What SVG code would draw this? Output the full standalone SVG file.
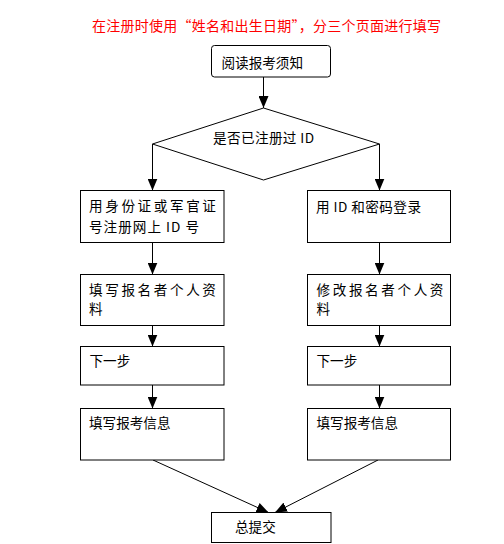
<svg xmlns="http://www.w3.org/2000/svg" width="504" height="544" viewBox="0 0 504 544">
<style>
text{font-family:"Noto Sans CJK SC","Liberation Sans",sans-serif;font-size:13.6px;fill:#000}
.title{fill:#ff0000;font-size:14px}
.box{fill:#fff;stroke:#000;stroke-width:1}
.ln{fill:none;stroke:#000;stroke-width:1}
.sp{letter-spacing:2.6px}
</style>
<defs>
<marker id="ah" viewBox="0 0 12 10" refX="12" refY="5" markerWidth="12" markerHeight="10" markerUnits="userSpaceOnUse" orient="auto">
<path d="M0,0 L12,5 L0,10 z" fill="#000"/>
</marker>
</defs>
<rect width="504" height="544" fill="#fff"/>
<text class="title" x="92" y="30.5" textLength="349" lengthAdjust="spacing">在注册时使用“姓名和出生日期”，分三个页面进行填写</text>
<g id="connectors">
<line class="ln" x1="263.5" y1="77" x2="263.5" y2="108" marker-end="url(#ah)"/>
<polyline class="ln" points="152.5,144 152.5,190.5" marker-end="url(#ah)"/>
<polyline class="ln" points="379.5,144 379.5,190.5" marker-end="url(#ah)"/>
<line class="ln" x1="152.5" y1="242.5" x2="152.5" y2="274.5" marker-end="url(#ah)"/>
<line class="ln" x1="379.5" y1="242.5" x2="379.5" y2="274.5" marker-end="url(#ah)"/>
<line class="ln" x1="152.5" y1="325.5" x2="152.5" y2="346.5" marker-end="url(#ah)"/>
<line class="ln" x1="379.5" y1="325.5" x2="379.5" y2="346.5" marker-end="url(#ah)"/>
<line class="ln" x1="152.5" y1="377" x2="152.5" y2="408.5" marker-end="url(#ah)"/>
<line class="ln" x1="379.5" y1="377" x2="379.5" y2="408.5" marker-end="url(#ah)"/>
<line class="ln" x1="153" y1="460" x2="268.5" y2="512.5" marker-end="url(#ah)"/>
<line class="ln" x1="378" y1="460" x2="275" y2="512.5" marker-end="url(#ah)"/>
</g>
<g id="start">
<rect class="box" x="211.5" y="45.5" width="119" height="31.5" rx="3"/>
<text x="221.5" y="67.5">阅读报考须知</text>
</g>
<g id="decision">
<polygon class="box" points="263.5,108 379.5,144 263.5,180 152.5,144"/>
<text x="213" y="143" textLength="101" lengthAdjust="spacing">是否已注册过 ID</text>
</g>
<g id="left1">
<rect class="box" x="80.5" y="190.5" width="143.5" height="52"/>
<text class="sp" x="89" y="210.5">用身份证或军官证</text>
<text x="89" y="231.5" textLength="110" lengthAdjust="spacing">号注册网上 ID 号</text>
</g>
<g id="right1">
<rect class="box" x="307.5" y="190.5" width="143" height="52"/>
<text x="316" y="212" textLength="105" lengthAdjust="spacing">用 ID 和密码登录</text>
</g>
<g id="left2">
<rect class="box" x="80.5" y="274.5" width="143.5" height="51"/>
<text class="sp" x="89" y="294.5">填写报名者个人资</text>
<text x="89" y="313.5">料</text>
</g>
<g id="right2">
<rect class="box" x="307.5" y="274.5" width="143" height="51"/>
<text class="sp" x="316.5" y="294.5">修改报名者个人资</text>
<text x="316.5" y="313.5">料</text>
</g>
<g id="left3">
<rect class="box" x="80.5" y="346.5" width="143.5" height="38.5"/>
<text x="89.5" y="366">下一步</text>
</g>
<g id="right3">
<rect class="box" x="307.5" y="346.5" width="143" height="38.5"/>
<text x="316.5" y="366">下一步</text>
</g>
<g id="left4">
<rect class="box" x="80.5" y="408.5" width="143.5" height="51.5"/>
<text x="89" y="428">填写报考信息</text>
</g>
<g id="right4">
<rect class="box" x="307.5" y="408.5" width="143" height="51.5"/>
<text x="316.5" y="428">填写报考信息</text>
</g>
<g id="submit">
<rect class="box" x="211.5" y="512.5" width="119.5" height="30"/>
<text x="235" y="531.5">总提交</text>
</g>
</svg>
